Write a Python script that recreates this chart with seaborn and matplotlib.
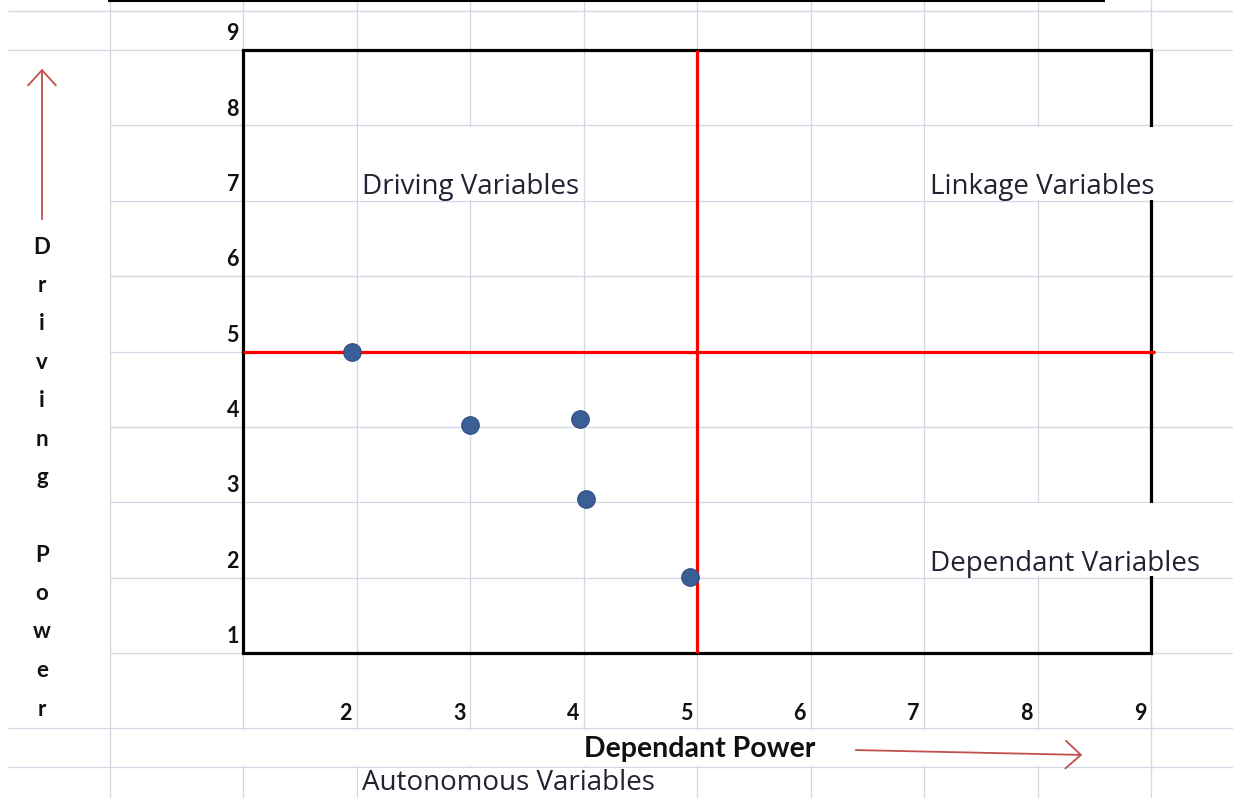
import numpy as np
import pandas as pd
import seaborn as sns
import matplotlib.pyplot as plt
from matplotlib.patches import Rectangle, FancyArrowPatch

# variables: dependence (x) vs driving power (y)
dep_power = [1.96, 3.0, 3.97, 4.02, 4.94]
drv_power = [5.0, 4.03, 4.1, 3.04, 2.01]

y_ticks = [1, 2, 3, 4, 5, 6, 7, 8, 9]
x_ticks = [2, 3, 4, 5, 6, 7, 8, 9]

cut_x = 5   # red dividing lines
cut_y = 5

quadrants = ["Driving Variables", "Linkage Variables", "Dependant Variables", "Autonomous Variables"]
y_label = "Driving Power"
x_label = "Dependant Power"

sns.set_theme(style="white")
plt.rcParams['font.family'] = ['Lato', 'DejaVu Sans']

fig = plt.figure(figsize=(12.33, 7.98), dpi=100)
ax = fig.add_axes([0, 0, 1, 1])

# map the sheet: one cell = one unit
px_x = 113.5
px_y = 75.375
x0, x1 = 1 - 243 / px_x, 1 + (1233 - 243) / px_x
y0, y1 = 1 - (798 - 653) / px_y, 1 + 653 / px_y

grid_c = '#d0d7e5'
col_a = 1 - (243 - 110) / px_x
left_edge = 1 - (243 - 8) / px_x

# spreadsheet gridlines
for gx in [col_a] + list(range(1, 10)):
    ax.axvline(gx, color=grid_c, lw=0.9, zorder=1)
row_top = 1 + (653 - 11) / px_y
row_bot = 1 - (767 - 653) / px_y
for gy in [row_top, 9, 0, row_bot]:
    ax.hlines(gy, left_edge, x1, color=grid_c, lw=0.9, zorder=1)
for gy in range(1, 9):
    ax.hlines(gy, col_a, x1, color=grid_c, lw=0.9, zorder=1)

# black frame
ax.add_patch(Rectangle((1, 1), 8, 8, fill=False, ec='black', lw=2.3, zorder=2))

# text overflow hides gridlines in these cells
for (rx, ry, rw, rh) in [(2.01, 7.015, 1.98, 0.97), (7.01, 7.015, x1 - 7.01, 0.97),
                         (7.01, 2.015, x1 - 7.01, 0.97), (col_a + 0.02, row_bot + 0.015, 8.95 - col_a, -row_bot - 0.03),
                         (2.01, y0, 2.98, row_bot - y0 - 0.015)]:
    ax.add_patch(Rectangle((rx, ry), rw, rh, fc='white', ec='none', zorder=3))

# top border artefact
ax.hlines(1 + (653 - 1) / px_y, 1 - 135 / px_x, 1 + 862 / px_x, color='black', lw=1.5, zorder=4)

# red quadrant lines
ax.hlines(cut_y, 1, 1 + 912 / px_x, color='#ff0000', lw=2.3, zorder=5)
ax.vlines(cut_x, 1, 9, color='#ff0000', lw=2.3, zorder=5)

df = pd.DataFrame({'dep': dep_power, 'drv': drv_power})
sns.scatterplot(data=df, x='dep', y='drv', ax=ax, s=160, color='#3a5e96',
                edgecolor='#2d4d80', linewidth=0.8, zorder=6, legend=False)
ax.set_xlim(x0, x1)
ax.set_ylim(y0, y1)
ax.axis('off')

# axis numbers as sheet cells
for k in y_ticks:
    ax.text(0.965, k + 0.13, str(k), ha='right', va='baseline', fontsize=15.5,
            fontweight='bold', color='#111111', zorder=7)
for k in x_ticks:
    ax.text(k - 0.04, 0.11, str(k), ha='right', va='baseline', fontsize=15.5,
            fontweight='bold', color='#111111', zorder=7)

lab_font = ['Open Sans', 'DejaVu Sans']
lab_size = 20
ax.text(2.05, 7.085, quadrants[0], ha='left', va='baseline', fontsize=lab_size,
        family=lab_font, color='#222233', zorder=7)
ax.text(7.05, 7.085, quadrants[1], ha='left', va='baseline', fontsize=lab_size,
        family=lab_font, color='#222233', zorder=7)
ax.text(7.05, 2.085, quadrants[2], ha='left', va='baseline', fontsize=lab_size,
        family=lab_font, color='#222233', zorder=7)
ax.text(2.05, 1 - (790 - 653) / px_y, quadrants[3], ha='left', va='baseline', fontsize=lab_size,
        family=lab_font, color='#222233', zorder=7)

ax.text(5.02, 1 - (757 - 653) / px_y, x_label, ha='center', va='baseline', fontsize=20.5,
        fontweight='bold', color='#111111', zorder=7)

# vertical axis title, one letter per line
letter_x = 1 - (243 - 42) / px_x
first_y = 1 + (653 - 247) / px_y
step = 38.5 / px_y
for i, ch in enumerate(y_label.replace(' ', '  ')[:7] + ' ' + y_label.split(' ')[1]):
    if ch.strip():
        ax.text(letter_x, first_y - i * step, ch, ha='center', va='center', fontsize=16,
                fontweight='bold', color='#111111', zorder=7)

arrow_c = '#c0504d'
ax.add_patch(FancyArrowPatch((letter_x, 1 + (653 - 222) / px_y), (letter_x, 1 + (653 - 66) / px_y),
                             arrowstyle='->,head_length=0.55,head_width=0.5', mutation_scale=20,
                             color=arrow_c, lw=1.3, zorder=7))
ax.add_patch(FancyArrowPatch((1 + 610 / px_x, 1 - 97 / px_y), (1 + 842 / px_x, 1 - 102 / px_y),
                             arrowstyle='->,head_length=0.55,head_width=0.5', mutation_scale=20,
                             color=arrow_c, lw=1.3, zorder=7))

fig.savefig('out.png', dpi=100)
